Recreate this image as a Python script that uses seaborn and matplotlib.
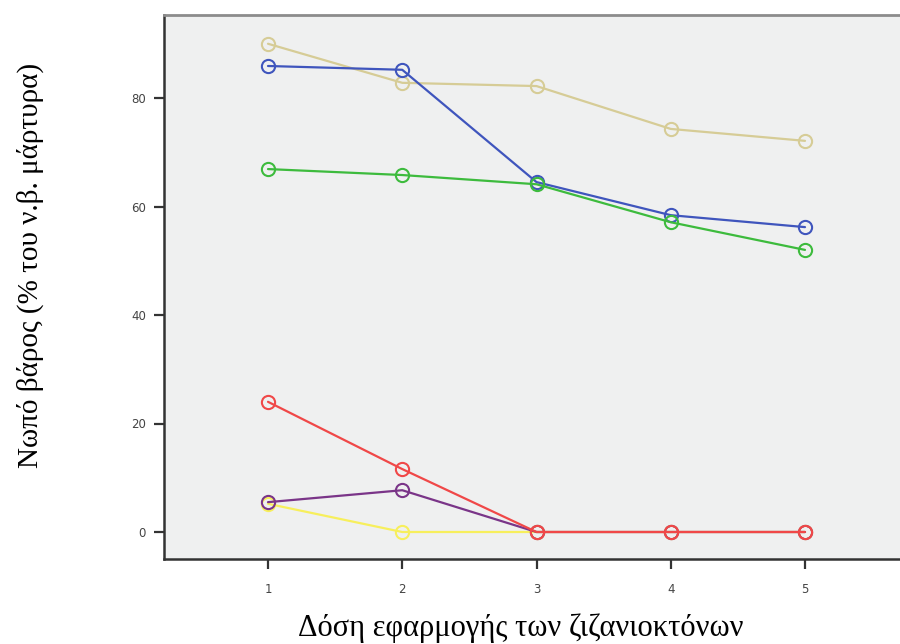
import matplotlib
matplotlib.use("Agg")
import matplotlib.pyplot as plt
import seaborn as sns
import pandas as pd

doses = [1, 2, 3, 4, 5]
tan_vals = [90.0, 82.8, 82.2, 74.3, 72.1]
blue_vals = [85.9, 85.2, 64.5, 58.4, 56.2]
green_vals = [66.9, 65.8, 64.1, 57.1, 52.0]
yellow_vals = [5.2, 0.0, 0.0, 0.0, 0.0]
purple_vals = [5.5, 7.7, 0.0, 0.0, 0.0]
red_vals = [24.0, 11.6, 0.0, 0.0, 0.0]

series_names = ["tan", "blue", "green", "yellow", "purple", "red"]
series_vals = [tan_vals, blue_vals, green_vals, yellow_vals, purple_vals, red_vals]
colors = ["#d6cc96", "#3f55bd", "#3dbb3d", "#f7ef5c", "#7a3588", "#f04848"]

ytick_vals = [0, 20, 40, 60, 80]
xlabel = "Δόση εφαρμογής των ζιζανιοκτόνων"
ylabel = "Νωπό βάρος (% του ν.β. μάρτυρα)"

rows = []
for name, vals in zip(series_names, series_vals):
    for d, v in zip(doses, vals):
        rows.append({"series": name, "dose": d, "value": v})
df = pd.DataFrame(rows)

sns.set_theme(style="white")
fig = plt.figure(figsize=(9, 6.44), dpi=100)
ax = fig.add_axes([164/900, 85/644, 1 - 164/900, (559-15)/644])
ax.set_facecolor("#eff0f0")

for name, c in zip(series_names, colors):
    sub = df[df["series"] == name]
    sns.lineplot(data=sub, x="dose", y="value", ax=ax, color=c, linewidth=1.6,
                 marker="o", markersize=9.5, markerfacecolor="none",
                 markeredgecolor=c, markeredgewidth=1.5, legend=False)

ax.set_xlim(1 - 104/134.25, 1 + 632/134.25)
ax.set_ylim(-27/5.425, 517/5.425)
ax.set_xticks(doses)
ax.set_yticks(ytick_vals)
ax.tick_params(axis="both", direction="out", length=7, width=1.6, color="#333333",
               labelsize=8.5, labelcolor="#444444", left=True, bottom=True)
ax.tick_params(axis="x", pad=10)
ax.tick_params(axis="y", pad=6)
for side in ["left", "bottom"]:
    ax.spines[side].set_color("#333333")
    ax.spines[side].set_linewidth(1.8)
ax.spines["top"].set_color("#8c8c8c")
ax.spines["top"].set_linewidth(2)
ax.spines["right"].set_visible(False)

ax.set_xlabel("")
ax.set_ylabel("")
fig.text(521/900, 1 - 628/644, xlabel, ha="center", va="center",
         fontsize=22, family="Liberation Serif", color="black")
fig.text(30/900, 1 - 265/644, ylabel, ha="center", va="center", rotation=90,
         fontsize=21, family="Liberation Serif", color="black")

fig.savefig("out.png", dpi=100)
